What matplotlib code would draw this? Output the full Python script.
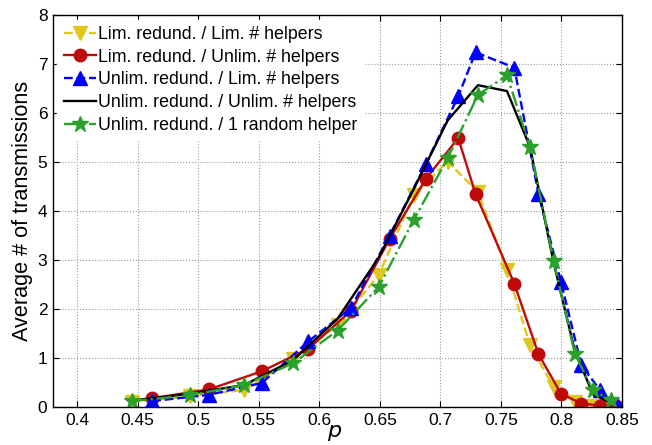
import numpy as np
import matplotlib
matplotlib.use('Agg')
import matplotlib.pyplot as plt

plt.rcParams['font.family'] = ['Liberation Sans', 'DejaVu Sans']

# p grid shared by the "Lim./Lim.", "Unlim./Unlim." and "1 random helper" curves
p_a = [0.445, 0.493, 0.538, 0.578, 0.615, 0.649, 0.678, 0.706, 0.731, 0.755,
       0.774, 0.7935, 0.811, 0.826, 0.841]
# p grid shared by the "Lim./Unlim." and "Unlim./Lim." curves
p_b = [0.462, 0.509, 0.5525, 0.591, 0.626, 0.658, 0.688, 0.7147, 0.729, 0.761,
       0.781, 0.7996, 0.8165, 0.832, 0.847]

lim_lim = [0.10, 0.22, 0.35, 0.97, 1.67, 2.69, 4.33, 5.01, 4.39, 2.79,
           1.26, 0.41, 0.10, 0.03, 0.02]
lim_unlim = [0.18, 0.36, 0.73, 1.19, 1.96, 3.43, 4.66, 5.49, 4.35, 2.52,
             1.08, 0.27, 0.07, 0.03, 0.01]
unlim_lim = [0.12, 0.25, 0.49, 1.34, 2.02, 3.50, 4.96, 6.34, 7.24, 6.93,
             4.35, 2.55, 0.85, 0.34, 0.03]
unlim_unlim = [0.13, 0.27, 0.45, 0.95, 1.80, 3.05, 4.45, 5.85, 6.57, 6.45,
               5.31, 2.95, 1.15, 0.26, 0.08]
unlim_rand = [0.12, 0.24, 0.45, 0.89, 1.56, 2.45, 3.82, 5.08, 6.37, 6.77,
              5.31, 2.99, 1.09, 0.34, 0.14]

labels = ['Lim. redund. / Lim. # helpers',
          'Lim. redund. / Unlim. # helpers',
          'Unlim. redund. / Lim. # helpers',
          'Unlim. redund. / Unlim. # helpers',
          'Unlim. redund. / 1 random helper']

yellow = '#dcc81e'
red = '#bf0a0a'
blue = '#0000ff'
green = '#2ca02c'

fig = plt.figure(figsize=(6.52, 4.45), dpi=100)
ax = fig.add_axes([0.0813, 0.0854, 0.8727, 0.8806])

ax.plot(p_a, lim_lim, '--v', color=yellow, lw=1.7, ms=10.5, label=labels[0])
ax.plot(p_b, lim_unlim, '-o', color=red, lw=1.7, ms=9, label=labels[1])
ax.plot(p_b, unlim_lim, '--^', color=blue, lw=1.7, ms=10.5, label=labels[2])
ax.plot(p_a, unlim_unlim, '-', color='black', lw=1.7, label=labels[3])
ax.plot(p_a, unlim_rand, '-.*', color=green, lw=1.7, ms=12, label=labels[4])

ax.set_xlim(0.38, 0.85)
ax.set_ylim(0, 8)
ax.set_xticks(np.arange(0.4, 0.851, 0.05))
ax.set_xticklabels(['0.4', '0.45', '0.5', '0.55', '0.6', '0.65', '0.7',
                    '0.75', '0.8', '0.85'])
ax.set_yticks(range(0, 9))
ax.tick_params(direction='in', top=True, right=True, labelsize=12.5, length=4,
               pad=4)
ax.grid(True, linestyle=':', color='#999999', lw=0.8)
ax.set_axisbelow(True)
for s in ax.spines.values():
    s.set_linewidth(1.0)

ax.set_xlabel('$p$', fontsize=16, va='baseline')
ax.xaxis.set_label_coords(0.495, -0.077)
ax.set_ylabel('Average # of transmissions', fontsize=15.6)
ax.yaxis.set_label_coords(-0.036, 0.5)

leg = ax.legend(loc='upper left', fontsize=12.75, frameon=True, fancybox=False,
                edgecolor='white', framealpha=1.0, handlelength=1.8,
                handletextpad=0.15, labelspacing=0.33, borderaxespad=0.25,
                borderpad=0.35)

fig.savefig('out.png', dpi=100)
